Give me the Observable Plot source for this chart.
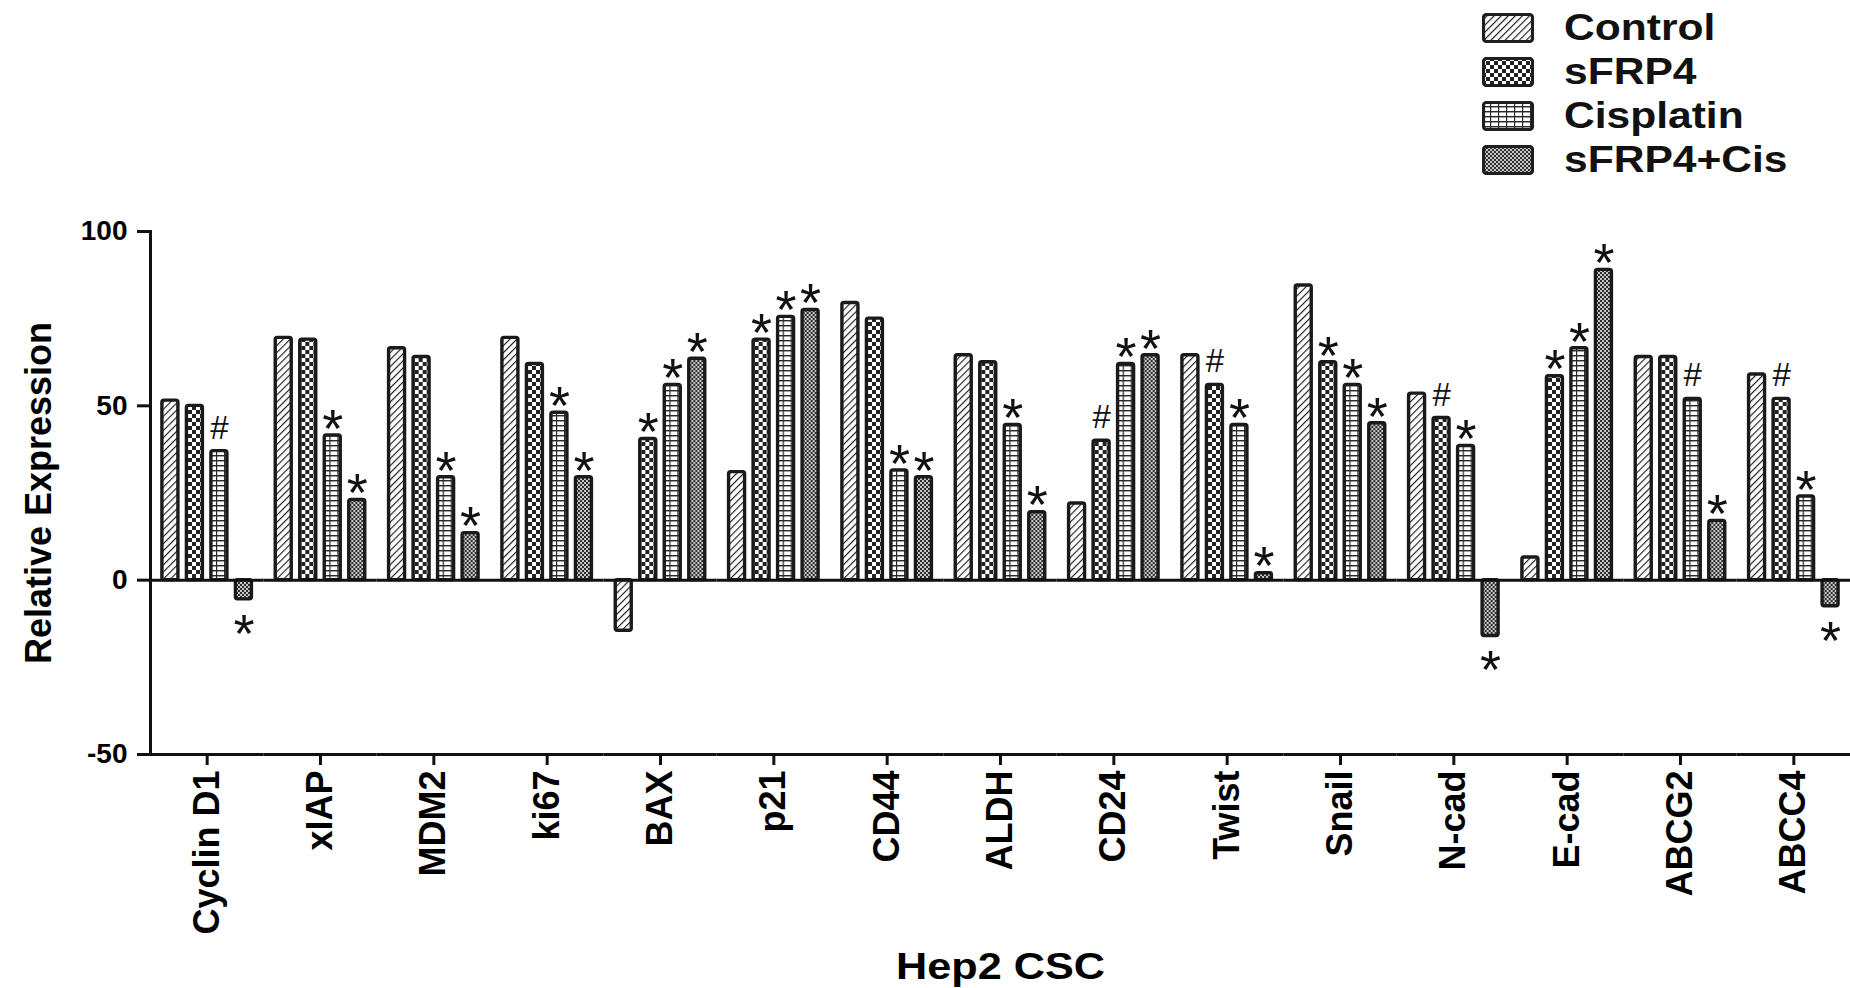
<!DOCTYPE html>
<html>
<head>
<meta charset="utf-8">
<script src="https://cdn.jsdelivr.net/npm/d3@7"></script>
<script src="https://cdn.jsdelivr.net/npm/@observablehq/plot@0.6"></script>
<style>
  html, body { margin: 0; padding: 0; background: #fff; }
  body { width: 1850px; height: 988px; overflow: hidden; font-family: "Liberation Sans", Arial, sans-serif; }
  #legend { height: 190px; box-sizing: border-box; padding-top: 6px; padding-left: 1482px; }
  .row { height: 44px; display: flex; align-items: center; }
  .row svg { flex: none; }
  .row span { margin-left: 30px; font-weight: bold; font-size: 37px; color: #111; display: inline-block; transform: scaleX(1.15); transform-origin: left center; white-space: nowrap; }
</style>
</head>
<body>
<svg width="0" height="0" style="position:absolute">
  <defs>
    <pattern id="p-control" patternUnits="userSpaceOnUse" width="5" height="5" patternTransform="rotate(45)">
      <rect width="5" height="5" fill="#fff"/>
      <line x1="0" y1="0" x2="0" y2="5" stroke="#1e1e1e" stroke-width="2.3"/>
    </pattern>
    <pattern id="p-sfrp4" patternUnits="userSpaceOnUse" width="8" height="8">
      <rect width="8" height="8" fill="#fff"/>
      <rect x="0" y="0" width="4" height="4" fill="#222"/>
      <rect x="4" y="4" width="4" height="4" fill="#222"/>
    </pattern>
    <pattern id="p-cis" patternUnits="userSpaceOnUse" width="8" height="5">
      <rect width="8" height="5" fill="#fff"/>
      <line x1="0" y1="0.7" x2="8" y2="0.7" stroke="#2a2a2a" stroke-width="1.5"/>
      <line x1="0.6" y1="0" x2="0.6" y2="5" stroke="#2a2a2a" stroke-width="1.2"/>
    </pattern>
    <pattern id="p-combo" patternUnits="userSpaceOnUse" width="4" height="4">
      <rect width="4" height="4" fill="#2e2e2e"/>
      <rect x="0" y="0" width="2" height="2" fill="#c8c8c8"/>
      <rect x="2" y="2" width="2" height="2" fill="#c8c8c8"/>
    </pattern>
  </defs>
</svg>
<div id="legend"></div>
<div id="chart"></div>
<script>
// ---- data ----
const categories = ["Cyclin D1","xIAP","MDM2","ki67","BAX","p21","CD44","ALDH","CD24","Twist","Snail","N-cad","E-cad","ABCG2","ABCC4"];
const series = ["Control","sFRP4","Cisplatin","sFRP4+Cis"];
const controlValues = [51.5, 69.5, 66.5, 69.5, -14.5, 31, 79.5, 64.5, 22, 64.5, 84.5, 53.5, 6.5, 64, 59];
const sfrp4Values   = [50, 69, 64, 62, 40.5, 69, 75, 62.5, 40, 56, 62.5, 46.5, 58.5, 64, 52];
const cisValues     = [37, 41.5, 29.5, 48, 56, 75.5, 31.5, 44.5, 62, 44.5, 56, 38.5, 66.5, 52, 24];
const comboValues   = [-5.5, 23, 13.5, 29.5, 63.5, 77.5, 29.5, 19.5, 64.5, 2, 45, -16, 89, 17, -7.5];
const controlNotes = ["","","","","","","","","","","","","","",""];
const sfrp4Notes   = ["","","","","*","*","","","#","#","*","#","*","","#"];
const cisNotes     = ["#","*","*","*","*","*","*","*","*","*","*","*","*","#","*"];
const comboNotes   = ["*","*","*","*","*","*","*","*","*","*","*","*","*","*","*"];
const yTicks = [-50, 0, 50, 100];
const patternFills = ["url(#p-control)","url(#p-sfrp4)","url(#p-cis)","url(#p-combo)"];

const valueLists = [controlValues, sfrp4Values, cisValues, comboValues];
const noteLists = [controlNotes, sfrp4Notes, cisNotes, comboNotes];
const data = [];
categories.forEach((c, i) => {
  series.forEach((s, j) => {
    data.push({category: c, series: s, value: valueLists[j][i], note: noteLists[j][i]});
  });
});

// ---- legend ----
const legend = document.getElementById("legend");
series.forEach((s, j) => {
  const row = document.createElement("div");
  row.className = "row";
  row.innerHTML = `<svg width="52" height="30"><rect x="1.5" y="1.5" width="49" height="27" rx="3" fill="${patternFills[j]}" stroke="#1e1e1e" stroke-width="3.2"/></svg><span>${s}</span>`;
  legend.appendChild(row);
});

// ---- chart ----
const font = "Liberation Sans, Arial, sans-serif";
const chart = Plot.plot({
  width: 1850,
  height: 798,
  marginLeft: 150,
  marginRight: 0,
  marginTop: 41,
  marginBottom: 234,
  style: {fontFamily: font, background: "white", overflow: "visible"},
  fx: {domain: categories, padding: 0, round: false},
  x: {domain: series, paddingInner: 0.347, paddingOuter: 0.486, axis: null, round: false},
  y: {domain: [-50, 100]},
  color: {domain: series, range: patternFills},
  marks: [
    Plot.barY(data, {fx: "category", x: "series", y: "value", fill: "series", stroke: "#1a1a1a", strokeWidth: 3.4, rx: 2}),
    Plot.ruleY([0], {stroke: "#111", strokeWidth: 3}),
    Plot.ruleY([-50], {stroke: "#111", strokeWidth: 3}),
    Plot.frame({anchor: "left", facet: "super", stroke: "#111", strokeWidth: 3}),
    Plot.text(data.filter(d => d.note === "*" && d.value >= 0), {fx: "category", x: "series", y: "value", text: "note", fontSize: 54, lineAnchor: "middle", dy: -6, fill: "#111"}),
    Plot.text(data.filter(d => d.note === "*" && d.value < 0), {fx: "category", x: "series", y: "value", text: "note", fontSize: 54, lineAnchor: "middle", dy: 35, fill: "#111"}),
    Plot.text(data.filter(d => d.note === "#"), {fx: "category", x: "series", y: "value", text: "note", fontSize: 33, lineAnchor: "middle", dy: -23, fill: "#111"}),
    Plot.axisY({ticks: yTicks, tickFormat: d => String(d), tickSize: 13, tickPadding: 10, fontSize: 28, fontWeight: "bold", stroke: "#111", strokeWidth: 3, label: null}),
    Plot.axisY({ticks: [], label: "Relative Expression", labelArrow: "none", labelAnchor: "center", labelOffset: 125, fontSize: 36, fontWeight: "bold"}),
    Plot.axisFx({anchor: "bottom", tickSize: 11, tickPadding: 5, tickRotate: -90, fontSize: 36, fontWeight: "bold", stroke: "#111", strokeWidth: 3, label: null}),
    Plot.axisFx({anchor: "bottom", ticks: [], label: "Hep2 CSC", labelAnchor: "center", labelOffset: 224, fontSize: 36, fontWeight: "bold"})
  ]
});
document.getElementById("chart").appendChild(chart);

// tidy labels: no arrows, slightly wider horizontal text like the reference
d3.select(chart).selectAll("text").each(function () {
  const t = d3.select(this);
  const tx = t.text();
  if (/[↑↓→←]/.test(tx)) t.text(tx.replace(/\s*[↑↓→←]\s*/g, ""));
});
d3.select(chart).selectAll('g[aria-label="fx-axis label"] text').each(function () {
  const len = this.getComputedTextLength();
  this.setAttribute("textLength", (len * 1.2).toFixed(1));
  this.setAttribute("lengthAdjust", "spacingAndGlyphs");
});
</script>
</body>
</html>
